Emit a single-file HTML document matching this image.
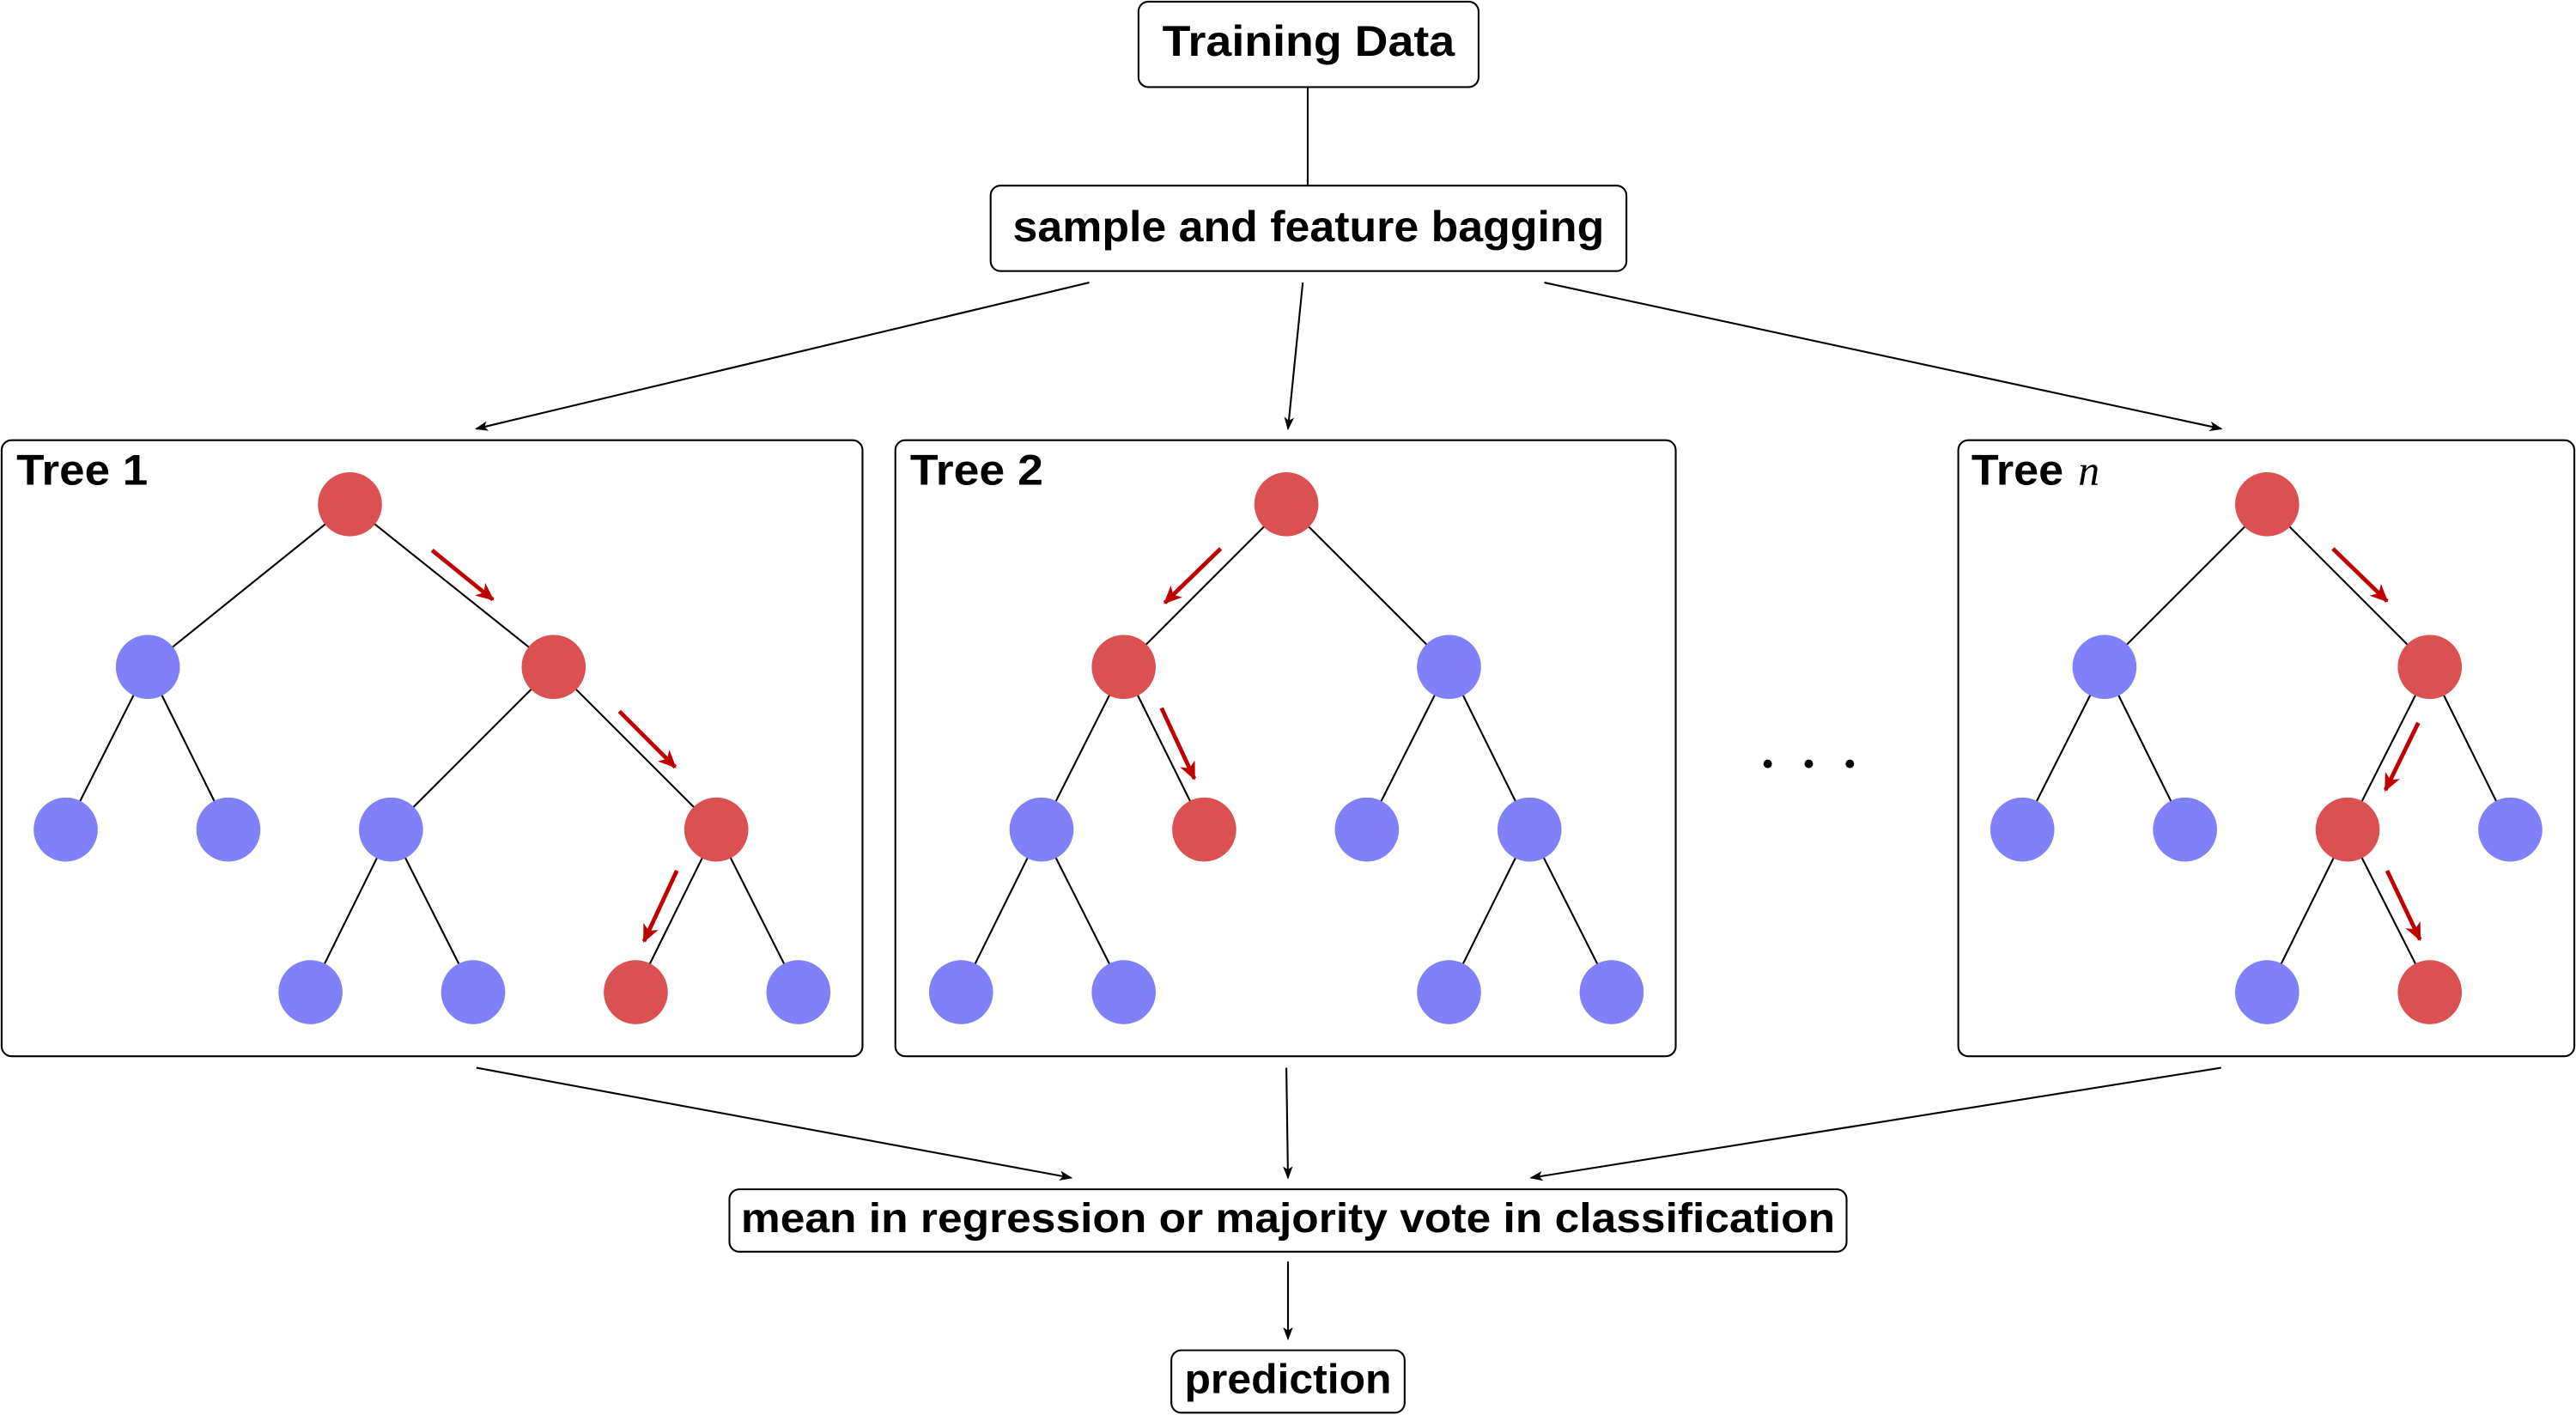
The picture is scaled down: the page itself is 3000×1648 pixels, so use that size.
<!DOCTYPE html>
<html><head><meta charset="utf-8"><style>
html,body{margin:0;padding:0;background:#fff;}
svg{display:block;}
text{font-family:"Liberation Sans",sans-serif;font-weight:bold;fill:#000;}
</style></head><body>
<svg width="3000" height="1648" viewBox="0 0 1568 861.4" preserveAspectRatio="none" xmlns="http://www.w3.org/2000/svg">
<defs>
<marker id="a" markerWidth="8" markerHeight="6" refX="7" refY="3" orient="auto" markerUnits="userSpaceOnUse"><path d="M0,0 L8,3 L0,6 L2,3 Z" fill="#000"/></marker>
<marker id="r" markerWidth="12" markerHeight="10" refX="10" refY="5" orient="auto" markerUnits="userSpaceOnUse"><path d="M0,0 L11,5 L0,10 L3,5 Z" fill="#c00000"/></marker>
</defs>
<g fill="none" stroke="#000" stroke-width="1.1">
<rect x="693" y="1" width="207" height="52" rx="6"/>
<rect x="603" y="113" width="387" height="52" rx="6"/>
<rect x="1" y="268" width="524" height="375" rx="6"/>
<rect x="545" y="268" width="475" height="375" rx="6"/>
<rect x="1192" y="268" width="375" height="375" rx="6"/>
<rect x="444" y="724" width="680" height="38" rx="6"/>
<rect x="713" y="822" width="142" height="38" rx="6"/>
<line x1="796" y1="53" x2="796" y2="113"/>
<line x1="663" y1="172" x2="290" y2="261" marker-end="url(#a)"/>
<line x1="793" y1="172" x2="784" y2="261" marker-end="url(#a)"/>
<line x1="940" y1="172" x2="1352" y2="261" marker-end="url(#a)"/>
<line x1="290" y1="650" x2="652" y2="717" marker-end="url(#a)"/>
<line x1="783" y1="650" x2="784" y2="717" marker-end="url(#a)"/>
<line x1="1352" y1="650" x2="932" y2="717" marker-end="url(#a)"/>
<line x1="784" y1="768" x2="784" y2="815" marker-end="url(#a)"/>
<!-- tree edges -->
<path d="M213,307L90,406M213,307L337,406M90,406L40,505M90,406L139,505M337,406L238,505M337,406L436,505M238,505L189,604M238,505L288,604M436,505L387,604M436,505L486,604"/>
<path d="M783,307L684,406M783,307L882,406M684,406L634,505M684,406L733,505M882,406L832,505M882,406L931,505M634,505L585,604M634,505L684,604M931,505L882,604M931,505L981,604"/>
<path d="M1380,307L1281,406M1380,307L1479,406M1281,406L1231,505M1281,406L1330,505M1479,406L1429,505M1479,406L1528,505M1429,505L1380,604M1429,505L1479,604"/>
</g>
<g fill="#db5050">
<circle cx="213" cy="307" r="19.5"/><circle cx="337" cy="406" r="19.5"/><circle cx="436" cy="505" r="19.5"/><circle cx="387" cy="604" r="19.5"/>
<circle cx="783" cy="307" r="19.5"/><circle cx="684" cy="406" r="19.5"/><circle cx="733" cy="505" r="19.5"/>
<circle cx="1380" cy="307" r="19.5"/><circle cx="1479" cy="406" r="19.5"/><circle cx="1429" cy="505" r="19.5"/><circle cx="1479" cy="604" r="19.5"/>
</g>
<g fill="#8080f8">
<circle cx="90" cy="406" r="19.5"/><circle cx="40" cy="505" r="19.5"/><circle cx="139" cy="505" r="19.5"/><circle cx="238" cy="505" r="19.5"/><circle cx="189" cy="604" r="19.5"/><circle cx="288" cy="604" r="19.5"/><circle cx="486" cy="604" r="19.5"/>
<circle cx="882" cy="406" r="19.5"/><circle cx="634" cy="505" r="19.5"/><circle cx="832" cy="505" r="19.5"/><circle cx="931" cy="505" r="19.5"/><circle cx="585" cy="604" r="19.5"/><circle cx="684" cy="604" r="19.5"/><circle cx="882" cy="604" r="19.5"/><circle cx="981" cy="604" r="19.5"/>
<circle cx="1281" cy="406" r="19.5"/><circle cx="1231" cy="505" r="19.5"/><circle cx="1330" cy="505" r="19.5"/><circle cx="1528" cy="505" r="19.5"/><circle cx="1380" cy="604" r="19.5"/>
</g>
<g stroke="#c00000" stroke-width="2.5" fill="none">
<line x1="263" y1="335" x2="300" y2="365" marker-end="url(#r)"/>
<line x1="377" y1="433" x2="411" y2="467" marker-end="url(#r)"/>
<line x1="412" y1="530" x2="392" y2="573" marker-end="url(#r)"/>
<line x1="743" y1="334" x2="709" y2="367" marker-end="url(#r)"/>
<line x1="707" y1="431" x2="727" y2="474" marker-end="url(#r)"/>
<line x1="1420" y1="334" x2="1453" y2="366" marker-end="url(#r)"/>
<line x1="1472" y1="440" x2="1452" y2="481" marker-end="url(#r)"/>
<line x1="1453" y1="530" x2="1473" y2="572" marker-end="url(#r)"/>
</g>
<g fill="#000"><circle cx="1076" cy="465" r="2.6"/><circle cx="1101" cy="465" r="2.6"/><circle cx="1126" cy="465" r="2.6"/></g>
<text x="796.5" y="34" font-size="26" text-anchor="middle" textLength="178" lengthAdjust="spacingAndGlyphs">Training Data</text>
<text x="796.5" y="147" font-size="26" text-anchor="middle" textLength="360" lengthAdjust="spacingAndGlyphs">sample and feature bagging</text>
<text x="10" y="295" font-size="26" textLength="80" lengthAdjust="spacingAndGlyphs">Tree 1</text>
<text x="554" y="295" font-size="26" textLength="81" lengthAdjust="spacingAndGlyphs">Tree 2</text>
<text x="1200" y="295" font-size="26" textLength="56" lengthAdjust="spacingAndGlyphs">Tree</text>
<text x="1265" y="295" font-size="26" style="font-family:'Liberation Serif',serif;font-style:italic;font-weight:normal">n</text>
<text x="784" y="750" font-size="25" text-anchor="middle" textLength="666" lengthAdjust="spacingAndGlyphs">mean in regression or majority vote in classification</text>
<text x="784" y="848" font-size="25" text-anchor="middle" textLength="126" lengthAdjust="spacingAndGlyphs">prediction</text>
</svg>
</body></html>
